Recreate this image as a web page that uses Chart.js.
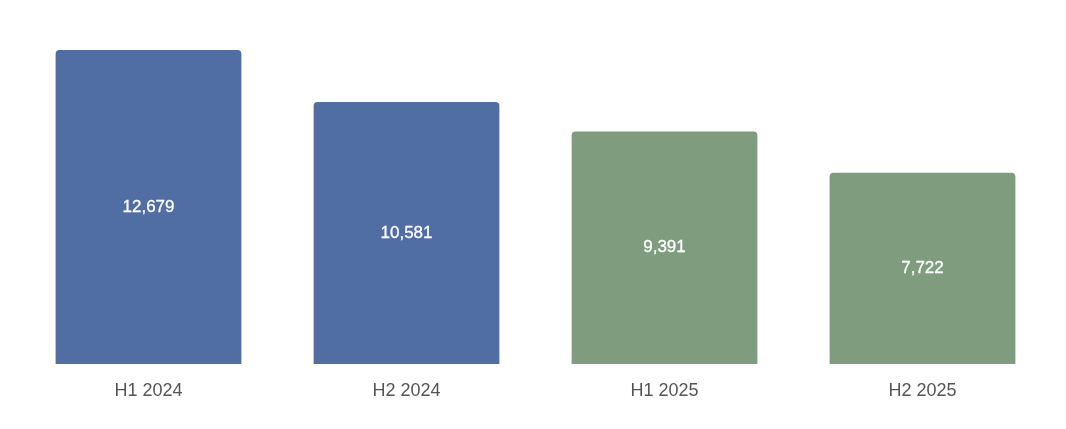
<!DOCTYPE html>
<html>
<head>
<meta charset="utf-8">
<script src="https://cdn.jsdelivr.net/npm/chart.js@4"></script>
<style>
  html, body { margin: 0; padding: 0; background: #fff; }
  #wrap { width: 1066px; height: 429px; position: relative; }
</style>
</head>
<body>
<div id="wrap"><canvas id="grafico"></canvas></div>
<script>
// datos
const periodos = ['H1 2024', 'H2 2024', 'H1 2025', 'H2 2025'];
const valores = [12679, 10581, 9391, 7722];
const colores = ['#506ea3', '#506ea3', '#7f9c7f', '#7f9c7f'];

/* etiquetas dentro de las barras */
const etiquetasBarras = {
  id: 'etiquetasBarras',
  afterDatasetsDraw(chart) {
    const ctx = chart.ctx;
    const meta = chart.getDatasetMeta(0);
    ctx.save();
    ctx.fillStyle = '#ffffff';
    ctx.strokeStyle = '#ffffff';
    ctx.lineWidth = 0.3; // un poco mas gruesas, como en el original
    ctx.font = '17px "Liberation Sans", Arial, sans-serif';
    ctx.textAlign = 'center';
    ctx.textBaseline = 'middle';
    meta.data.forEach((bar, i) => {
      const mitad = (bar.y + bar.base) / 2;
      const texto = valores[i].toLocaleString('en-US');
      ctx.fillText(texto, bar.x, mitad);
      ctx.strokeText(texto, bar.x, mitad);
    });
    ctx.restore();
  }
};

const ctx = document.getElementById('grafico').getContext('2d');

let miGrafico = new Chart(ctx, {
  type: 'bar',
  data: {
    labels: periodos,
    datasets: [{
      data: valores,
      backgroundColor: colores,
      borderRadius: { topLeft: 4, topRight: 4 },
      borderSkipped: 'bottom',
      categoryPercentage: 0.8,
      barPercentage: 0.9
    }]
  },
  options: {
    responsive: true,
    maintainAspectRatio: false,
    animation: false,
    layout: { padding: { top: 50, left: 19.5, right: 14.5, bottom: 11.4 } },
    scales: {
      x: {
        grid: { display: false, drawTicks: false },
        border: { display: false },
        ticks: {
          color: '#555555',
          padding: 16,
          font: { family: '"Liberation Sans", Arial, sans-serif', size: 18 }
        }
      },
      y: {
        display: false,
        min: 0,
        max: Math.max(...valores)
      }
    },
    plugins: {
      legend: { display: false },
      tooltip: { enabled: false }
    }
  },
  plugins: [etiquetasBarras]
});
</script>
</body>
</html>
